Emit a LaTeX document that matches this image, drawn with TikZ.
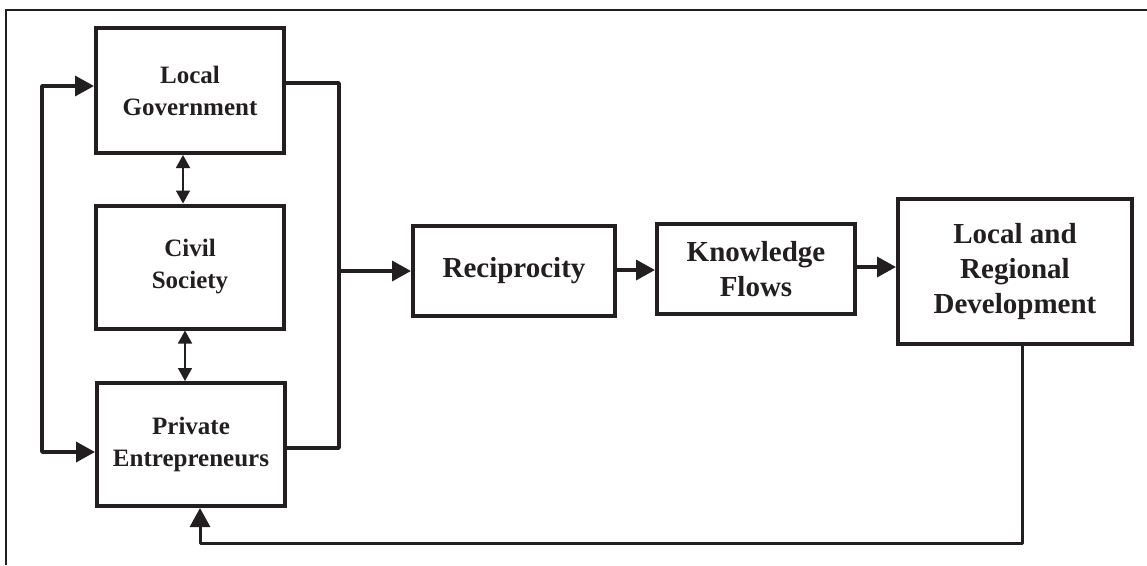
\documentclass[tikz,border=0pt]{standalone}
\usepackage{fontspec}
\setmainfont{Liberation Serif}
\usetikzlibrary{arrows.meta,calc}
\definecolor{ink}{RGB}{35,31,32}
\begin{document}
\begin{tikzpicture}[x=1pt,y=-1pt,
  box/.style={draw=ink,line width=4pt,align=center,text=ink,font=\bfseries,inner sep=0pt},
  lbox/.style={box,minimum width=188pt,minimum height=123pt,font=\fontsize{25}{32}\selectfont\bfseries},
  rbox/.style={box,font=\fontsize{29}{35}\selectfont\bfseries},
  conn/.style={draw=ink,line width=3.5pt,-{Triangle[length=19pt,width=20pt]}},
  thinarr/.style={draw=ink,line width=1.6pt,{Triangle[length=13pt,width=14pt]}-{Triangle[length=13pt,width=14pt]}}]
\useasboundingbox (0,0) rectangle (1147,565);
\fill[white] (0,0) rectangle (1147,565);
\draw[ink,line width=2.2pt] (6,565) -- (6,10) -- (1147,10);

\node[lbox,minimum height=125pt] (LG) at (190,90.5) {Local\\Government};
\node[lbox] (CS) at (190,267) {Civil\\Society};
\node[lbox] (PE) at (191,444.5) {Private\\Entrepreneurs};
\node[rbox,minimum width=202pt,minimum height=90pt] (Rec) at (514,271) {Reciprocity};
\node[rbox,minimum width=198pt,minimum height=90pt] (KF) at (756,269) {Knowledge\\Flows};
\node[rbox,minimum width=234pt,minimum height=145pt] (LRD) at (1015,271.5) {Local and\\Regional\\Development};

\draw[thinarr] (LG.south -| 183,0) -- (CS.north -| 183,0);
\draw[thinarr] (CS.south -| 185,0) -- (PE.north -| 185,0);

\coordinate (lt) at (42,86);
\coordinate (lb) at (42,452);
\draw[draw=ink,line width=3.5pt,{Triangle[length=19pt,width=20pt]}-{Triangle[length=19pt,width=20pt]},line join=round]
  (lt -| LG.west) -- (lt) -- (lb) -- (lb -| PE.west);

\coordinate (rt) at (339,83);
\coordinate (rb) at (339,448);
\coordinate (bus) at (339,271);
\draw[ink,line width=3.5pt,line join=round] (rt -| LG.east) -- (rt) -- (rb) -- (rb -| PE.east);
\draw[conn] (bus) -- (bus -| Rec.west);

\draw[conn] (Rec.east |- 0,270) -- (KF.west |- 0,270);
\draw[conn] (KF.east |- 0,267) -- (LRD.west |- 0,267);

\coordinate (fb1) at (1022,543);
\coordinate (fb2) at (200,543);
\draw[conn,line width=3pt,line join=round] (fb1 |- LRD.south) -- (fb1) -- (fb2) -- (fb2 |- PE.south);
\end{tikzpicture}
\end{document}
